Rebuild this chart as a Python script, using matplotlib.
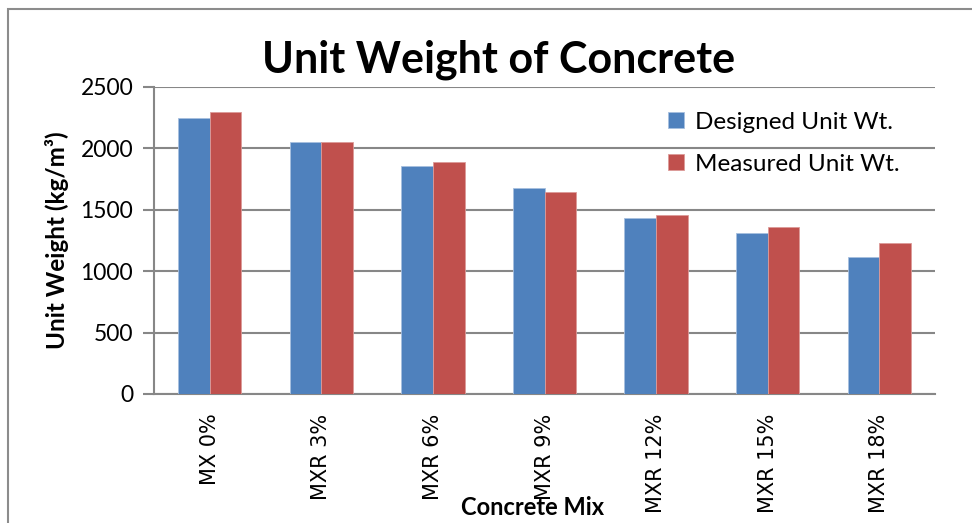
import matplotlib.pyplot as plt
import numpy as np
from matplotlib.patches import Rectangle

mixes = ['MX 0%', 'MXR 3%', 'MXR 6%', 'MXR 9%', 'MXR 12%', 'MXR 15%', 'MXR 18%']
designed = [2245, 2055, 1857, 1675, 1436, 1314, 1116]
measured = [2294, 2055, 1887, 1643, 1460, 1360, 1227]

blue = '#4F81BD'
red = '#C0504D'
grid_col = '#878787'

fig = plt.figure(figsize=(9.72, 5.23), dpi=100)
ax = fig.add_axes([0.1584, 0.2467, 0.8036, 0.587])

x = np.arange(len(mixes))
w = 0.284
ax.bar(x - w / 2, designed, w, color=blue, edgecolor='#a7bfdf', linewidth=0.6,
       label='Designed Unit Wt.', zorder=3)
ax.bar(x + w / 2, measured, w, color=red, edgecolor='#dc9a98', linewidth=0.6,
       label='Measured Unit Wt.', zorder=3)

ax.set_xlim(-0.5, len(mixes) - 0.5)
ax.set_ylim(0, 2500)
ax.set_yticks(range(0, 2501, 500))
ax.yaxis.grid(True, color=grid_col, linewidth=1.5)
ax.set_axisbelow(True)

for s in ['top', 'right']:
    ax.spines[s].set_visible(False)
for s in ['left', 'bottom']:
    ax.spines[s].set_color(grid_col)
    ax.spines[s].set_linewidth(1.5)

ax.tick_params(axis='y', length=8, width=1.5, color=grid_col, pad=7,
               labelsize=16.5)
ax.tick_params(axis='x', length=0, pad=14)
ax.set_xticks(x)
ax.set_xticklabels(mixes, rotation=90, fontsize=15, family='DejaVu Sans',
                   va='top')
for lab in ax.get_yticklabels():
    lab.set_family('Lato')

ax.set_ylabel('Unit Weight (kg/m³)', fontsize=17.5, fontweight='bold',
              family=['Lato', 'DejaVu Sans'], labelpad=8)
fig.text(0.548, 0.03, 'Concrete Mix', fontsize=17, fontweight='bold',
         family='Lato', ha='center', va='center')
fig.text(0.513, 0.885, 'Unit Weight of Concrete', fontsize=31,
         fontweight='bold', family='Lato', ha='center', va='center')

ax.legend(loc='upper left', bbox_to_anchor=(0.63, 0.99), frameon=False,
          prop={'family': 'Lato', 'size': 17.5}, handlelength=0.65,
          handleheight=0.65, handletextpad=0.45, labelspacing=0.85)

fig.patches.append(Rectangle((8 / 972, -0.1), 1.2, 1 - 9 / 523 + 0.1,
                             transform=fig.transFigure, fill=False,
                             edgecolor='#8c8c8c', linewidth=1.5))

fig.savefig('out.png', dpi=100)
